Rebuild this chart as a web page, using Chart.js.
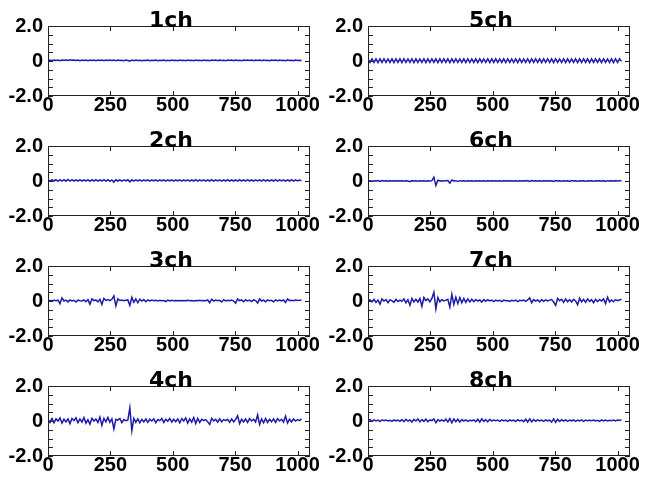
<!DOCTYPE html>
<html>
<head>
<meta charset="utf-8">
<script src="https://cdn.jsdelivr.net/npm/chart.js@4/dist/chart.umd.min.js"></script>
<style>
  body { margin: 0; background: #fff; width: 646px; height: 483px; position: relative; overflow: hidden; }
  .cell { position: absolute; width: 323px; height: 120px; }
</style>
</head>
<body>
<script>
// one sample every 8 points of the original record (0..1016)
const sampleStep = 8;
const xTicks = [0, 250, 500, 750, 1000];
const yMinorTicks = [-2, -1.5, -1, -0.5, 0, 0.5, 1, 1.5, 2];
const yLabelValues = [-2, 0, 2];
const yLabelTexts = ['-2.0', '0', '2.0'];
const titles = ['1ch', '2ch', '3ch', '4ch', '5ch', '6ch', '7ch', '8ch'];

const ch1 = [
  0.03,0.05,0.02,0.06,0.03,0.05,0.02,0.06,0.04,0.06,0.03,0.07,0.04,0.06,0.03,0.05,
  0.02,0.05,0.03,0.06,0.02,0.05,0.03,0.06,0.02,0.05,0.03,0.05,0.02,0.06,0.03,0.05,
  0.03,0.05,0.02,0.05,0.03,0.04,0.02,0.05,0.03,-0.01,0.05,0.02,0.05,0.03,0.04,0.02,
  0.04,0.03,0.05,0.02,0.04,0.03,0.05,0.02,0.04,0.03,0.05,0.02,0.04,0.02,0.05,0.03,
  0.04,0.02,0.05,0.03,0.04,0.02,0.05,0.03,0.04,0.02,0.05,0.03,0.04,0.02,0.05,0.03,
  0.04,0.02,0.06,0.03,0.05,0.02,0.05,0.03,0.04,0.02,0.05,0.03,0.06,0.02,0.05,0.03,
  0.04,0.02,0.05,0.03,0.06,0.03,0.05,0.02,0.05,0.03,0.06,0.02,0.05,0.03,0.04,0.02,
  0.05,0.03,0.06,0.02,0.05,0.03,0.04,0.02,0.05,0.03,0.04,0.02,0.05,0.03,0.04,0.03
];
const ch2 = [
  0.07,-0.01,0.08,0.0,0.07,-0.02,0.08,0.0,0.08,-0.01,0.09,0.0,0.08,-0.01,0.07,0.0,
  0.08,-0.01,0.07,0.0,0.08,-0.02,0.07,0.0,0.08,-0.01,0.07,0.0,0.08,-0.01,0.07,-0.02,
  0.06,-0.06,0.07,0.0,0.07,-0.01,0.06,0.0,0.07,-0.05,0.07,-0.01,0.06,0.0,0.07,-0.01,
  0.06,0.0,0.07,-0.01,0.06,0.0,0.07,-0.01,0.06,0.0,0.07,-0.01,0.06,0.0,0.07,-0.01,
  0.07,0.0,0.06,-0.01,0.07,0.0,0.06,-0.01,0.07,0.0,0.08,-0.01,0.07,0.0,0.06,-0.01,
  0.07,0.0,0.08,-0.01,0.07,0.0,0.06,-0.01,0.07,0.0,0.08,-0.01,0.07,0.0,0.07,-0.01,
  0.08,0.0,0.07,-0.01,0.08,0.0,0.07,-0.01,0.06,0.0,0.07,-0.01,0.08,0.0,0.07,-0.01,
  0.07,0.0,0.08,-0.01,0.07,0.0,0.06,-0.01,0.07,0.0,0.08,-0.01,0.07,0.0,0.06,0.02
];
const ch3 = [
  0.02,0.03,0.01,0.04,0.02,0.05,-0.15,0.18,0.0,0.05,-0.05,0.06,0.0,0.04,-0.06,0.05,
  0.02,0.0,0.06,-0.04,0.08,-0.18,0.12,0.02,0.06,-0.05,0.1,-0.2,0.15,0.03,0.08,0.02,
  0.1,0.3,-0.28,0.12,0.03,0.05,0.02,0.04,0.06,-0.25,0.2,-0.08,0.12,-0.1,0.1,0.0,
  0.08,-0.04,0.06,0.0,0.05,0.01,0.04,0.0,0.04,0.01,0.03,-0.03,0.05,0.0,0.04,0.02,
  0.03,0.01,0.03,0.02,0.03,0.01,0.04,0.02,0.03,0.0,0.03,0.02,0.04,0.01,0.03,0.02,
  0.06,-0.1,0.1,0.0,0.05,0.02,0.04,-0.05,0.08,0.01,0.04,0.02,0.06,0.0,-0.12,0.12,
  0.02,0.06,-0.04,0.07,0.0,0.05,-0.03,0.06,0.02,-0.12,0.12,0.0,0.05,-0.04,0.06,0.01,
  0.04,-0.05,0.06,0.0,0.05,0.01,0.06,-0.08,0.12,0.02,0.04,0.02,0.05,0.03,0.04,0.06
];
const ch4 = [
  0.1,-0.08,0.15,-0.1,0.12,0.0,0.18,-0.12,0.1,-0.05,0.12,-0.15,0.15,0.02,0.18,-0.1,
  0.12,-0.06,0.2,-0.12,0.08,-0.18,0.15,0.0,0.12,-0.08,0.22,-0.25,0.15,-0.05,0.2,-0.08,
  0.12,-0.45,0.1,0.05,0.15,-0.1,0.08,0.02,0.05,0.75,-0.55,0.15,-0.08,0.12,-0.1,0.1,
  -0.05,0.12,-0.08,0.1,0.0,0.12,-0.1,0.08,0.02,0.14,-0.08,0.1,-0.02,0.15,-0.06,0.1,
  -0.04,0.12,-0.1,0.14,0.0,0.18,-0.12,0.12,-0.06,0.2,-0.14,0.15,-0.08,0.1,0.02,0.08,
  -0.05,-0.2,0.15,0.0,0.1,-0.06,0.12,-0.04,0.08,0.02,0.1,-0.08,0.12,-0.05,0.1,0.3,
  -0.15,0.1,-0.05,0.12,-0.08,0.14,0.0,0.1,-0.06,0.35,-0.2,0.12,-0.1,0.15,-0.08,0.1,
  -0.04,0.12,-0.08,0.14,0.0,0.1,-0.06,0.28,-0.12,0.1,-0.05,0.12,0.0,0.08,0.02,0.12
];
const ch5 = [
  0.12,-0.08,0.13,-0.08,0.12,-0.09,0.12,-0.08,0.13,-0.08,0.12,-0.08,0.12,-0.09,0.13,-0.08,
  0.12,-0.09,0.13,-0.08,0.12,-0.08,0.13,-0.09,0.12,-0.08,0.12,-0.08,0.13,-0.09,0.12,-0.08,
  0.13,-0.08,0.12,-0.09,0.12,-0.08,0.13,-0.08,0.12,-0.09,0.12,-0.08,0.13,-0.08,0.12,-0.08,
  0.12,-0.09,0.13,-0.08,0.12,-0.08,0.12,-0.09,0.13,-0.08,0.12,-0.08,0.13,-0.09,0.12,-0.08,
  0.13,-0.08,0.12,-0.08,0.12,-0.09,0.13,-0.08,0.12,-0.08,0.13,-0.09,0.12,-0.08,0.12,-0.08,
  0.13,-0.09,0.12,-0.08,0.13,-0.08,0.12,-0.09,0.12,-0.08,0.13,-0.08,0.12,-0.09,0.13,-0.08,
  0.12,-0.08,0.13,-0.09,0.12,-0.08,0.12,-0.08,0.13,-0.09,0.12,-0.08,0.13,-0.08,0.12,-0.09,
  0.12,-0.08,0.13,-0.08,0.12,-0.09,0.13,-0.08,0.12,-0.08,0.12,-0.09,0.13,-0.08,0.12,-0.02
];
const ch6 = [
  0.0,0.01,-0.01,0.01,0.0,0.02,-0.03,0.02,0.0,0.01,-0.01,0.01,0.0,0.01,0.0,0.01,
  0.0,0.01,-0.01,0.01,0.0,-0.04,0.02,0.0,0.01,-0.01,0.01,0.0,0.01,-0.01,0.01,0.0,
  0.02,0.22,-0.26,0.04,0.0,0.01,0.0,0.01,0.02,-0.12,0.06,0.0,0.02,-0.02,0.02,0.0,
  0.01,-0.01,0.01,0.0,0.01,-0.01,0.01,0.0,0.01,0.0,0.01,-0.01,0.01,0.0,0.01,0.0,
  0.01,0.0,0.01,-0.01,0.01,0.0,0.01,0.0,0.01,0.0,0.01,-0.01,0.01,0.0,0.01,0.0,
  0.02,-0.03,0.02,0.0,0.01,0.0,0.01,-0.01,0.01,0.0,0.02,0.0,0.01,-0.03,0.02,0.0,
  0.01,-0.01,0.01,0.0,0.01,-0.03,0.03,0.0,0.01,-0.01,0.01,0.0,0.01,-0.01,0.01,0.0,
  0.01,-0.01,0.02,0.0,0.01,0.0,0.01,-0.02,0.02,0.0,0.01,0.0,0.01,0.0,0.01,0.01
];
const ch7 = [
  0.02,0.06,-0.05,0.1,-0.08,0.05,-0.18,0.12,0.0,0.08,-0.1,0.06,0.02,-0.08,0.1,-0.03,
  0.05,-0.02,0.12,-0.1,0.08,-0.25,0.15,-0.05,0.1,-0.06,0.14,-0.3,0.2,0.02,0.12,-0.05,
  0.15,0.5,-0.45,0.2,-0.05,0.08,0.0,0.05,0.1,-0.35,0.38,-0.2,0.22,-0.15,0.2,-0.1,
  0.15,-0.08,0.12,-0.05,0.1,-0.04,0.08,0.0,0.06,-0.06,0.08,-0.02,0.07,0.0,0.05,-0.03,
  0.05,0.0,0.04,-0.03,0.05,0.01,0.03,-0.02,0.04,0.0,0.05,-0.03,0.04,0.01,0.05,-0.02,
  0.06,0.18,-0.1,0.08,0.0,0.06,-0.05,0.08,-0.02,0.06,0.0,0.05,0.08,-0.06,-0.25,0.15,
  0.02,0.1,-0.08,0.12,-0.04,0.08,-0.06,0.1,0.0,-0.22,0.16,-0.05,0.1,-0.08,0.12,-0.02,
  0.08,-0.1,0.1,-0.04,0.08,0.0,0.12,-0.15,0.22,-0.05,0.06,-0.04,0.08,0.02,0.06,0.1
];
const ch8 = [
  0.04,0.08,-0.02,0.06,0.0,0.05,-0.03,0.07,0.02,0.06,0.0,0.04,-0.02,0.06,0.01,0.05,
  -0.02,0.08,-0.04,0.1,0.0,0.06,-0.06,0.1,0.0,0.12,-0.05,0.08,-0.02,0.1,-0.04,0.06,
  0.02,0.12,-0.1,0.08,0.0,0.06,-0.02,0.1,-0.05,0.14,-0.1,0.12,-0.04,0.1,-0.06,0.08,
  0.0,0.06,-0.02,0.05,0.0,0.06,-0.04,0.1,-0.06,0.12,-0.02,0.08,-0.05,0.1,0.0,0.06,
  0.02,0.05,-0.02,0.06,0.0,0.05,-0.02,0.06,0.01,0.05,-0.03,0.07,0.0,0.05,-0.04,0.1,
  -0.06,0.12,-0.04,0.08,-0.02,0.06,0.0,0.05,-0.02,0.06,0.01,0.05,-0.06,0.12,-0.08,0.1,
  -0.03,0.08,0.0,0.06,-0.02,0.05,0.01,0.06,-0.02,0.05,0.0,0.06,-0.02,0.05,0.01,0.04,
  0.02,0.05,0.0,0.04,-0.02,0.06,0.01,0.05,0.0,0.04,0.02,0.05,0.0,0.06,0.03,0.08
];

const channels = [ch1, ch2, ch3, ch4, ch5, ch6, ch7, ch8];

const tickFont = { family: "'Liberation Sans', Arial, sans-serif", size: 20, weight: 'bold' };
const lineColor = '#1c1ca8';

// matplotlib-like frame: box on all sides, ticks pointing inward, title over the box
const framePlugin = {
  id: 'frame',
  afterDraw(chart, args, opts) {
    const { ctx, chartArea: { left, right, top, bottom }, scales: { x, y } } = chart;
    ctx.save();
    ctx.strokeStyle = '#222';
    ctx.lineWidth = 1;
    ctx.beginPath();
    x.ticks.forEach(t => {
      const px = Math.round(x.getPixelForValue(t.value)) + 0.5;
      ctx.moveTo(px, top); ctx.lineTo(px, top + 5);
      ctx.moveTo(px, bottom); ctx.lineTo(px, bottom - 5);
    });
    y.ticks.forEach(t => {
      const py = Math.round(y.getPixelForValue(t.value)) + 0.5;
      ctx.moveTo(left, py); ctx.lineTo(left + 5, py);
      ctx.moveTo(right, py); ctx.lineTo(right - 5, py);
    });
    ctx.stroke();
    ctx.strokeRect(left + 0.5, top + 0.5, right - left - 1, bottom - top - 1);

    ctx.fillStyle = '#000';
    ctx.font = "bold 22px 'DejaVu Sans', sans-serif";
    ctx.textAlign = 'center';
    ctx.textBaseline = 'alphabetic';
    ctx.fillText(opts.text, (left + right) / 2 - 8, top + 1);
    ctx.restore();
  }
};

channels.forEach((values, idx) => {
  const col = idx < 4 ? 0 : 1;
  const row = idx % 4;

  const cell = document.createElement('div');
  cell.className = 'cell';
  cell.style.left = (col * 323) + 'px';
  cell.style.top = (row * 120) + 'px';
  const canvas = document.createElement('canvas');
  canvas.width = 323;
  canvas.height = 120;
  cell.appendChild(canvas);
  document.body.appendChild(cell);

  new Chart(canvas.getContext('2d'), {
    type: 'line',
    data: {
      datasets: [{
        data: values.map((v, i) => ({ x: i * sampleStep, y: v })),
        borderColor: lineColor,
        borderWidth: 1.5,
        pointRadius: 0,
        tension: 0,
        fill: false
      }]
    },
    options: {
      responsive: false,
      animation: false,
      events: [],
      layout: { padding: { top: 26, right: col ? 16 : 13, left: 0, bottom: 0 } },
      plugins: {
        legend: { display: false },
        tooltip: { enabled: false },
        title: { display: false },
        frame: { text: titles[idx] }
      },
      scales: {
        x: {
          type: 'linear',
          min: 0,
          max: 1050,
          afterBuildTicks: scale => { scale.ticks = xTicks.map(v => ({ value: v })); },
          afterFit: scale => { scale.height = 24; },
          grid: { display: false, drawTicks: false },
          border: { display: false },
          ticks: {
            font: tickFont,
            color: '#000',
            padding: -3,
            maxRotation: 0,
            autoSkip: false,
            callback: v => String(v)
          }
        },
        y: {
          type: 'linear',
          min: -2,
          max: 2,
          afterBuildTicks: scale => { scale.ticks = yMinorTicks.map(v => ({ value: v })); },
          afterFit: scale => { scale.width = col ? 45 : 48; },
          grid: { display: false, drawTicks: false },
          border: { display: false },
          ticks: {
            font: tickFont,
            color: '#000',
            padding: 5,
            autoSkip: false,
            callback: v => {
              const k = yLabelValues.indexOf(v);
              return k >= 0 ? yLabelTexts[k] : '';
            }
          }
        }
      }
    },
    plugins: [framePlugin]
  });
});
</script>
</body>
</html>
